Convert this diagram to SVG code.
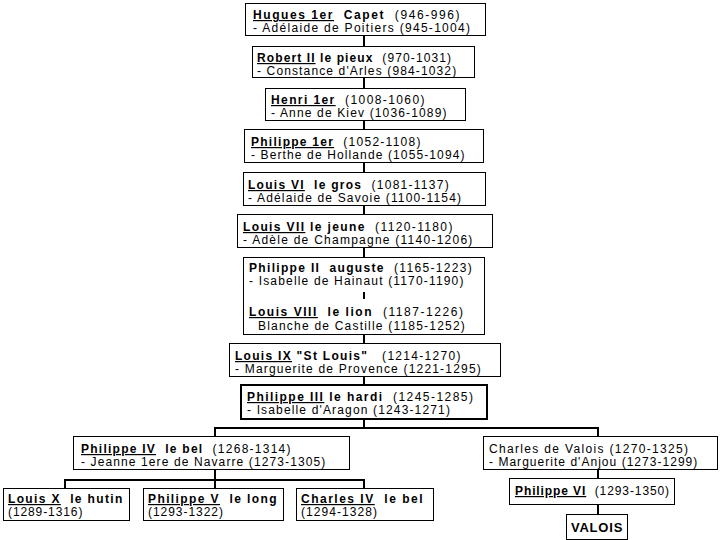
<svg xmlns="http://www.w3.org/2000/svg" width="720" height="540" viewBox="0 0 720 540">
<style>
rect{fill:#fff;stroke:#000;stroke-width:1}
.thick{stroke-width:2}
#connectors line{stroke:#000;stroke-width:2}
text{font-family:"Liberation Sans",Arial,sans-serif;font-size:12px;letter-spacing:1.2px;fill:#000;white-space:pre}
.b{font-weight:bold}
.u{font-weight:bold;text-decoration:underline}
.v{font-weight:bold;font-size:13px;letter-spacing:0.8px}
</style>
<rect x="0" y="0" width="720" height="540" style="stroke:none"/>
<g id="connectors">
<line x1="364" y1="35" x2="364" y2="46"/>
<line x1="364" y1="77" x2="364" y2="88"/>
<line x1="364" y1="120" x2="364" y2="130"/>
<line x1="364" y1="162" x2="364" y2="172"/>
<line x1="364" y1="205" x2="364" y2="214"/>
<line x1="364" y1="247" x2="364" y2="257"/>
<line x1="364" y1="334" x2="364" y2="343"/>
<line x1="364" y1="376" x2="364" y2="384"/>
<line x1="364" y1="419" x2="364" y2="428"/>
<line x1="215" y1="428" x2="598" y2="428"/>
<line x1="215" y1="427" x2="215" y2="436"/>
<line x1="598" y1="427" x2="598" y2="436"/>
<line x1="215" y1="470" x2="215" y2="480"/>
<line x1="65" y1="480" x2="364" y2="480"/>
<line x1="65" y1="479" x2="65" y2="488"/>
<line x1="364" y1="479" x2="364" y2="488"/>
<line x1="215" y1="480" x2="215" y2="488"/>
<line x1="598" y1="469" x2="598" y2="478"/>
<line x1="598" y1="504" x2="598" y2="514"/>
</g>
<g id="hugues"><rect x="245.5" y="3.5" width="240" height="32"/>
<text x="253" y="19" style="letter-spacing:1.57px" xml:space="preserve"><tspan class="u">Hugues 1er</tspan><tspan class="b">  Capet</tspan>  (946-996)</text>
<text x="253" y="32" style="letter-spacing:1.3px">- Adélaide de Poitiers (945-1004)</text></g>
<g id="robert"><rect x="252.5" y="46.5" width="222" height="31"/>
<text x="257" y="62" style="letter-spacing:1.1px" xml:space="preserve"><tspan class="u">Robert II</tspan><tspan class="b"> le pieux</tspan>  (970-1031)</text>
<text x="257" y="75" style="letter-spacing:1.13px">- Constance d'Arles (984-1032)</text></g>
<g id="henri"><rect x="265.5" y="88.5" width="200" height="32"/>
<text x="271" y="104" style="letter-spacing:1.4px" xml:space="preserve"><tspan class="u">Henri 1er</tspan>  (1008-1060)</text>
<text x="271" y="117" style="letter-spacing:1.15px">- Anne de Kiev (1036-1089)</text></g>
<g id="philippe1"><rect x="244.5" y="129.5" width="239" height="33"/>
<text x="251" y="146" style="letter-spacing:1.26px" xml:space="preserve"><tspan class="u">Philippe 1er</tspan>  (1052-1108)</text>
<text x="251" y="159" style="letter-spacing:1.12px">- Berthe de Hollande (1055-1094)</text></g>
<g id="louis6"><rect x="243.5" y="172.5" width="242" height="33"/>
<text x="248" y="189" style="letter-spacing:1.27px" xml:space="preserve"><tspan class="u">Louis VI</tspan><tspan class="b">  le gros</tspan>  (1081-1137)</text>
<text x="248" y="202" style="letter-spacing:1.16px">- Adélaide de Savoie (1100-1154)</text></g>
<g id="louis7"><rect x="237.5" y="214.5" width="255" height="33"/>
<text x="243" y="231" style="letter-spacing:1.37px" xml:space="preserve"><tspan class="u">Louis VII</tspan><tspan class="b"> le jeune</tspan>  (1120-1180)</text>
<text x="243" y="244" style="letter-spacing:1.25px">- Adèle de Champagne (1140-1206)</text></g>
<g id="philippe2-louis8"><rect x="243.5" y="257.5" width="241" height="77"/>
<text x="249" y="272" style="letter-spacing:1.32px" xml:space="preserve"><tspan class="b">Philippe II  auguste</tspan>  (1165-1223)</text>
<text x="249" y="285" style="letter-spacing:1.17px">- Isabelle de Hainaut (1170-1190)</text>
<line x1="364" y1="292" x2="364" y2="299" stroke="#000" stroke-width="2"/>
<text x="249" y="316" style="letter-spacing:1.55px" xml:space="preserve"><tspan class="u">Louis VIII</tspan><tspan class="b">  le lion</tspan>  (1187-1226)</text>
<text x="258" y="330" style="letter-spacing:1.21px">Blanche de Castille (1185-1252)</text></g>
<g id="louis9"><rect x="229.5" y="343.5" width="271" height="33"/>
<text x="235" y="360" style="letter-spacing:1.29px" xml:space="preserve"><tspan class="u">Louis IX</tspan><tspan class="b"> "St Louis"</tspan>   (1214-1270)</text>
<text x="235" y="373" style="letter-spacing:1.19px">- Marguerite de Provence (1221-1295)</text></g>
<g id="philippe3"><rect class="thick" x="241" y="385" width="246" height="34"/>
<text x="247" y="401" style="letter-spacing:1.45px" xml:space="preserve"><tspan class="u">Philippe III</tspan><tspan class="b"> le hardi</tspan>  (1245-1285)</text>
<text x="247" y="414" style="letter-spacing:1.15px">- Isabelle d'Aragon (1243-1271)</text></g>
<g id="philippe4"><rect x="73.5" y="436.5" width="276" height="33"/>
<text x="81" y="453" style="letter-spacing:1.25px" xml:space="preserve"><tspan class="u">Philippe IV</tspan><tspan class="b">  le bel</tspan>  (1268-1314)</text>
<text x="81" y="466" style="letter-spacing:1.11px">- Jeanne 1ere de Navarre (1273-1305)</text></g>
<g id="charles-valois"><rect x="483.5" y="436.5" width="234" height="33"/>
<text x="489" y="453" style="letter-spacing:1.33px">Charles de Valois (1270-1325)</text>
<text x="489" y="466" style="letter-spacing:1.03px">- Marguerite d'Anjou (1273-1299)</text></g>
<g id="philippe6"><rect x="509.5" y="478.5" width="165" height="26"/>
<text x="515" y="495" style="letter-spacing:0.9px" xml:space="preserve"><tspan class="u">Philippe VI</tspan>  (1293-1350)</text></g>
<g id="valois"><rect x="566.5" y="514.5" width="61" height="25"/>
<text class="v" x="597" y="532" text-anchor="middle">VALOIS</text></g>
<g id="louis10"><rect x="3.5" y="488.5" width="126" height="32"/>
<text x="8" y="503" style="letter-spacing:1.35px" xml:space="preserve"><tspan class="u">Louis X</tspan><tspan class="b">  le hutin</tspan></text>
<text x="8" y="516" style="letter-spacing:0.9px">(1289-1316)</text></g>
<g id="philippe5"><rect x="143.5" y="488.5" width="140" height="32"/>
<text x="148" y="503" style="letter-spacing:1.4px" xml:space="preserve"><tspan class="u">Philippe V</tspan><tspan class="b">  le long</tspan></text>
<text x="148" y="516" style="letter-spacing:0.95px">(1293-1322)</text></g>
<g id="charles4"><rect x="296.5" y="488.5" width="137" height="32"/>
<text x="301" y="503" style="letter-spacing:1.5px" xml:space="preserve"><tspan class="u">Charles IV</tspan><tspan class="b">  le bel</tspan></text>
<text x="301" y="516" style="letter-spacing:1.05px">(1294-1328)</text></g>
</svg>
